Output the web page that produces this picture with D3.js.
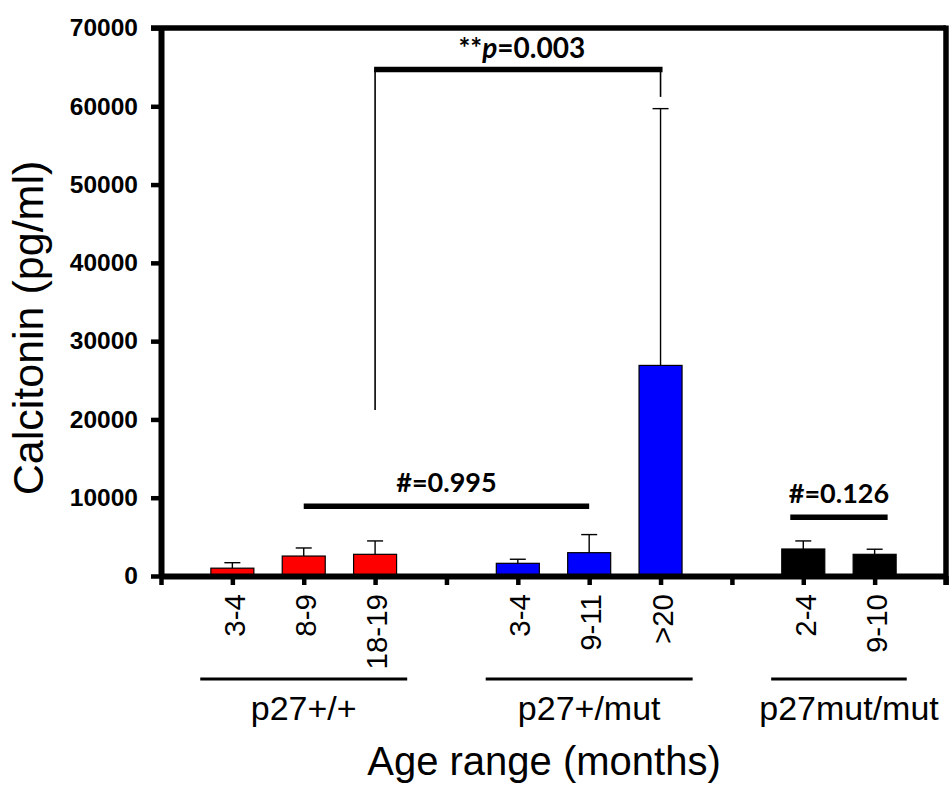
<!DOCTYPE html>
<html>
<head>
<meta charset="utf-8">
<script src="https://cdn.jsdelivr.net/npm/d3@7"></script>
<style>
  body { margin: 0; background: #fff; }
  svg { display: block; }
</style>
</head>
<body>
<svg id="chart" width="952" height="798"></svg>
<script>
// data
const ageLabels = ["3-4", "8-9", "18-19", "3-4", "9-11", ">20", "2-4", "9-10"];
const groupIdx = [0, 0, 0, 1, 1, 1, 2, 2];
const groups = ["p27+/+", "p27+/mut", "p27mut/mut"];
const groupColors = ["#ff0000", "#0000ff", "#000000"];
const means = [1000, 2550, 2770, 1620, 2980, 26900, 3450, 2770];
const sems = [700, 1030, 1710, 520, 2310, 32800, 1030, 650];
const yTicks = [0, 10000, 20000, 30000, 40000, 50000, 60000, 70000];

// significance annotations (bar indices, value of bar line)
const hashTests = [
    {text: "#=0.995", from: 1, to: 4, level: 8900, pad: 0},
    {text: "#=0.126", from: 6, to: 7, level: 7500, pad: 13}
];
const pTest = {from: 2, to: 5, level: 64700, leftDrop: 21200, rightDrop: 61200};

const svg = d3.select("#chart");
const plotL = 161, plotR = 946, plotT = 28, plotB = 576;

// slot of each bar: one empty slot between groups
const slots = ageLabels.map((_, i) => i + groupIdx[i] + 1);

const x = d3.scaleLinear().domain([0, 11]).range([plotL, plotR]);
const y = d3.scaleLinear().domain([0, 70000]).range([plotB, plotT]);
const barW = 43;

const sans = "'Liberation Sans', Arial, Helvetica, sans-serif";
const annoFont = "Lato, 'Open Sans', sans-serif";

// bars
svg.append("g")
    .selectAll("rect")
    .data(means)
    .join("rect")
    .attr("x", (d, i) => x(slots[i]) - barW / 2)
    .attr("y", d => y(d))
    .attr("width", barW)
    .attr("height", d => plotB - y(d))
    .attr("fill", (d, i) => groupColors[groupIdx[i]])
    .attr("stroke", "#000")
    .attr("stroke-width", 1.2);

// error bars (upper only)
const err = svg.append("g")
    .attr("stroke", "#000")
    .attr("stroke-width", 1.4);
err.selectAll(".stem")
    .data(means)
    .join("line")
    .attr("class", "stem")
    .attr("x1", (d, i) => x(slots[i]))
    .attr("x2", (d, i) => x(slots[i]))
    .attr("y1", d => y(d))
    .attr("y2", (d, i) => y(d + sems[i]));
err.selectAll(".cap")
    .data(means)
    .join("line")
    .attr("class", "cap")
    .attr("x1", (d, i) => x(slots[i]) - 8)
    .attr("x2", (d, i) => x(slots[i]) + 8)
    .attr("y1", (d, i) => y(d + sems[i]))
    .attr("y2", (d, i) => y(d + sems[i]));

// y axis
const yAxis = svg.append("g")
    .attr("transform", `translate(${plotL},0)`)
    .call(d3.axisLeft(y).tickValues(yTicks).tickFormat(d3.format("d"))
        .tickSize(10).tickSizeOuter(0).tickPadding(13));
yAxis.select(".domain").attr("stroke-width", 6);
yAxis.selectAll(".tick line").attr("stroke-width", 4.5);
yAxis.selectAll(".tick text")
    .attr("font-family", sans)
    .attr("font-weight", "bold")
    .attr("font-size", 24.5)
    .attr("fill", "#000");

// x axis
const slotLabel = new Map(slots.map((s, i) => [s, ageLabels[i]]));
const xAxis = svg.append("g")
    .attr("transform", `translate(0,${plotB})`)
    .call(d3.axisBottom(x).tickValues(d3.range(0, 12)).tickSize(9).tickSizeOuter(0)
        .tickFormat(d => slotLabel.get(d) || ""));
xAxis.select(".domain").attr("stroke-width", 6);
xAxis.selectAll(".tick line").attr("stroke-width", 4.5);
xAxis.selectAll(".tick text")
    .attr("transform", "rotate(-90)")
    .attr("x", -18)
    .attr("y", 0)
    .attr("dy", "0.4em")
    .attr("text-anchor", "end")
    .attr("font-family", sans)
    .attr("font-size", 29.5)
    .attr("fill", "#000");

// frame (top and right)
svg.append("line")
    .attr("x1", plotL - 10).attr("x2", plotR)
    .attr("y1", plotT).attr("y2", plotT)
    .attr("stroke", "#000").attr("stroke-width", 5.5);
svg.append("line")
    .attr("x1", plotR).attr("x2", plotR)
    .attr("y1", plotT - 2.5).attr("y2", plotB + 9)
    .attr("stroke", "#000").attr("stroke-width", 5.5);

// hash comparisons
hashTests.forEach(t => {
    const x1 = x(slots[t.from]) - t.pad;
    const x2 = x(slots[t.to]) + t.pad;
    svg.append("line")
        .attr("x1", x1).attr("x2", x2)
        .attr("y1", y(t.level)).attr("y2", y(t.level))
        .attr("stroke", "#000").attr("stroke-width", 5.5);
    svg.append("text")
        .attr("x", (x1 + x2) / 2)
        .attr("y", y(t.level) - 14)
        .attr("text-anchor", "middle")
        .attr("font-family", annoFont)
        .attr("font-weight", "bold")
        .attr("font-size", 27)
        .text(t.text);
});

// p-value bracket
const px1 = x(slots[pTest.from]), px2 = x(slots[pTest.to]);
svg.append("line")
    .attr("x1", px1).attr("x2", px1)
    .attr("y1", y(pTest.level)).attr("y2", y(pTest.leftDrop))
    .attr("stroke", "#000").attr("stroke-width", 1.6);
svg.append("line")
    .attr("x1", px2).attr("x2", px2)
    .attr("y1", y(pTest.level)).attr("y2", y(pTest.rightDrop))
    .attr("stroke", "#000").attr("stroke-width", 1.6);
svg.append("line")
    .attr("x1", px1 - 1).attr("x2", px2 + 2)
    .attr("y1", y(pTest.level)).attr("y2", y(pTest.level))
    .attr("stroke", "#000").attr("stroke-width", 5.5);
const pText = svg.append("text")
    .attr("x", (px1 + px2) / 2 + 4)
    .attr("y", y(pTest.level) - 11)
    .attr("text-anchor", "middle")
    .attr("font-family", annoFont)
    .attr("font-weight", "bold")
    .attr("font-size", 28);
pText.append("tspan").text("**");
pText.append("tspan").attr("font-style", "italic").text("p");
pText.append("tspan").text("=0.003");

// group lines and names
const groupGeo = groups.map((g, k) => {
    const members = slots.filter((s, i) => groupIdx[i] === k);
    return {name: g, first: d3.min(members), last: d3.max(members)};
});
svg.selectAll(".grp-line")
    .data(groupGeo)
    .join("line")
    .attr("class", "grp-line")
    .attr("x1", d => x(d.first) - 0.45 * (x(1) - x(0)))
    .attr("x2", d => x(d.last) + 0.45 * (x(1) - x(0)))
    .attr("y1", 679).attr("y2", 679)
    .attr("stroke", "#000").attr("stroke-width", 3);
svg.selectAll(".grp-name")
    .data(groupGeo)
    .join("text")
    .attr("class", "grp-name")
    .attr("x", (d, k) => k === 2 ? plotR - 97 : (x(d.first) + x(d.last)) / 2)
    .attr("y", 720)
    .attr("text-anchor", "middle")
    .attr("font-family", sans)
    .attr("font-size", 34)
    .text(d => d.name);

// axis titles
svg.append("text")
    .attr("transform", `translate(43,${(plotT + plotB) / 2 + 26}) rotate(-90)`)
    .attr("text-anchor", "middle")
    .attr("font-family", sans)
    .attr("font-size", 43)
    .text("Calcitonin (pg/ml)");
svg.append("text")
    .attr("x", 544)
    .attr("y", 775)
    .attr("text-anchor", "middle")
    .attr("font-family", sans)
    .attr("font-size", 40)
    .text("Age range (months)");
</script>
</body>
</html>
